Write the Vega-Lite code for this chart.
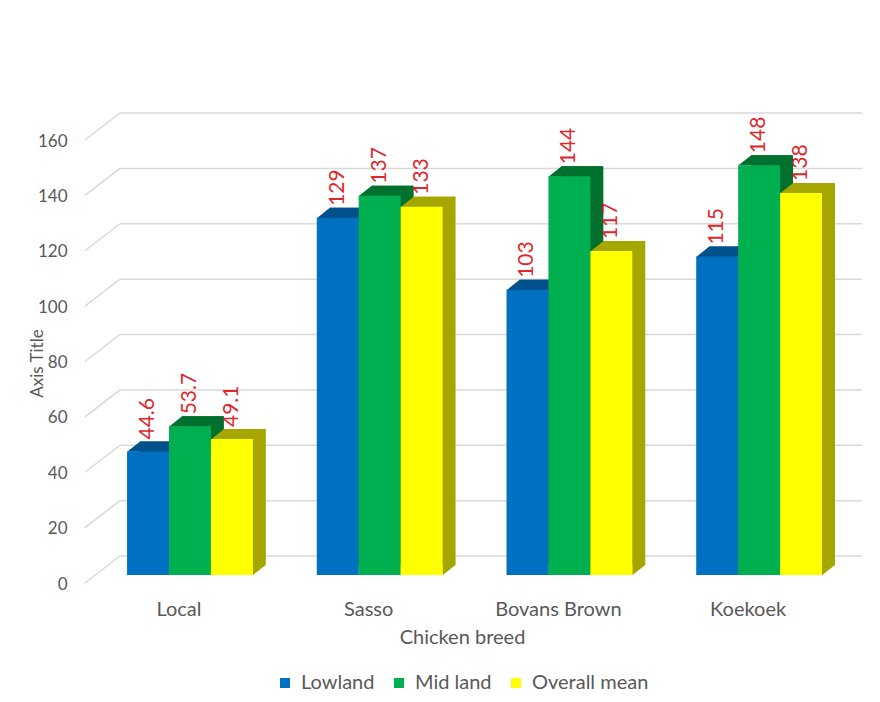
{
  "$schema": "https://vega.github.io/schema/vega-lite/v6.json",
  "width": 742,
  "height": 443,
  "autosize": {"type": "none"},
  "padding": {"left": 120, "top": 132, "right": 18, "bottom": 127},
  "background": "white",
  "config": {"font": "Lato", "view": {"stroke": null}},
  "datasets": {
    "yields": [
      {"breed": "Local", "series": "Lowland", "value": 44.6},
      {"breed": "Local", "series": "Mid land", "value": 53.7},
      {"breed": "Local", "series": "Overall mean", "value": 49.1},
      {"breed": "Sasso", "series": "Lowland", "value": 129},
      {"breed": "Sasso", "series": "Mid land", "value": 137},
      {"breed": "Sasso", "series": "Overall mean", "value": 133},
      {"breed": "Bovans Brown", "series": "Lowland", "value": 103},
      {"breed": "Bovans Brown", "series": "Mid land", "value": 144},
      {"breed": "Bovans Brown", "series": "Overall mean", "value": 117},
      {"breed": "Koekoek", "series": "Lowland", "value": 115},
      {"breed": "Koekoek", "series": "Mid land", "value": 148},
      {"breed": "Koekoek", "series": "Overall mean", "value": 138}
    ],
    "gridTicks": [
      {"v": 0}, {"v": 20}, {"v": 40}, {"v": 60}, {"v": 80},
      {"v": 100}, {"v": 120}, {"v": 140}, {"v": 160}
    ]
  },
  "resolve": {"scale": {"fill": "independent", "x": "independent"}, "axis": {"x": "independent"}},
  "layer": [
    {
      "data": {"name": "gridTicks"},
      "mark": {"type": "rule", "color": "#D9D9D9", "strokeWidth": 1.5, "yOffset": -19},
      "encoding": {
        "y": {"field": "v", "type": "quantitative", "title": "Axis Title",
              "scale": {"domain": [0, 160], "nice": false, "zero": true}}
      }
    },
    {
      "layer": [
        {
          "data": {"name": "yields"},
          "mark": {"type": "bar", "yOffset": -10, "y2Offset": -10},
          "encoding": {
            "x": {"field": "breed", "type": "nominal", "axis": null,
                  "scale": {"domain": ["Local", "Sasso", "Bovans Brown", "Koekoek"],
                            "paddingInner": 0.337, "paddingOuter": 0.124, "align": 0.4263}},
            "xOffset": {"field": "series", "type": "nominal",
                        "scale": {"domain": ["Lowland", "Mid land", "Overall mean"],
                                  "paddingInner": 0, "paddingOuter": 0}},
            "y": {"field": "value", "type": "quantitative", "title": "Axis Title"},
            "fill": {"field": "series", "type": "nominal", "legend": null,
                     "scale": {"domain": ["Lowland", "Mid land", "Overall mean"],
                               "range": ["#00508C", "#00702E", "#A6A600"]}}
          }
        }
      ]
    },
    {
      "layer": [
        {
          "data": {"name": "gridTicks"},
          "mark": {"type": "rule", "color": "#D9D9D9", "strokeWidth": 1.5,
                   "xOffset": -105, "x2Offset": -70, "yOffset": 8, "y2Offset": -19},
          "encoding": {
            "x": {"datum": "Local", "type": "nominal", "title": "Chicken breed"},
            "x2": {"datum": "Local"},
            "y": {"field": "v", "type": "quantitative", "title": "Axis Title"},
            "y2": {"field": "v"}
          }
        },
        {
          "data": {"name": "yields"},
          "mark": {"type": "point", "filled": true, "opacity": 1, "strokeWidth": 0, "size": 4597,
                   "shape": "M 0.6165 -0.295 L 0.6165 0.005 L 1 -0.295 Z"},
          "encoding": {
            "x": {"field": "breed", "type": "nominal", "title": "Chicken breed"},
            "xOffset": {"field": "series", "type": "nominal"},
            "y": {"datum": 0, "type": "quantitative", "title": "Axis Title"},
            "fill": {"field": "series", "type": "nominal", "legend": null,
                     "scale": {"domain": ["Lowland", "Mid land", "Overall mean"],
                               "range": ["#00508C", "#00702E", "#A6A600"]}}
          }
        },
        {
          "data": {"name": "yields"},
          "mark": {"type": "point", "filled": true, "opacity": 1, "strokeWidth": 0, "size": 4597,
                   "shape": "M -0.6165 0.01 L 0.6165 0.01 L 1 -0.295 L -0.233 -0.295 Z"},
          "encoding": {
            "x": {"field": "breed", "type": "nominal", "title": "Chicken breed"},
            "xOffset": {"field": "series", "type": "nominal"},
            "y": {"field": "value", "type": "quantitative", "title": "Axis Title"},
            "fill": {"field": "series", "type": "nominal", "legend": null,
                     "scale": {"domain": ["Lowland", "Mid land", "Overall mean"],
                               "range": ["#0B5A9A", "#00843C", "#C8C800"]}}
          }
        },
        {
          "data": {"name": "yields"},
          "mark": {"type": "bar"},
          "encoding": {
            "x": {
              "field": "breed", "type": "nominal", "title": "Chicken breed",
              "scale": {"domain": ["Local", "Sasso", "Bovans Brown", "Koekoek"],
                        "paddingInner": 0.337, "paddingOuter": 0.124, "align": 0.15},
              "axis": {
                "labelAngle": 0, "labelAlign": "center", "domain": false, "ticks": false, "tickSize": 0,
                "labelPadding": 34, "labelBaseline": "middle", "labelOffset": -11,
                "labelFontSize": 20, "labelColor": "#595959",
                "titleFontSize": 20, "titleColor": "#595959", "titleFontWeight": "normal",
                "titleX": 342, "titleY": 62, "titleBaseline": "middle", "titleAlign": "center"
              }
            },
            "xOffset": {"field": "series", "type": "nominal",
                        "scale": {"domain": ["Lowland", "Mid land", "Overall mean"],
                                  "paddingInner": 0, "paddingOuter": 0}},
            "y": {
              "field": "value", "type": "quantitative", "title": "Axis Title",
              "axis": {
                "values": [0, 20, 40, 60, 80, 100, 120, 140, 160],
                "grid": false, "domain": false, "ticks": false, "tickSize": 0,
                "labelPadding": 53, "labelOffset": 9,
                "labelFontSize": 17, "labelColor": "#595959",
                "titleFontSize": 17, "titleColor": "#595959", "titleFontWeight": "normal",
                "titleX": -83, "titleY": 231, "titleAngle": 270,
                "titleBaseline": "middle", "titleAlign": "center"
              }
            },
            "color": {
              "field": "series", "type": "nominal",
              "scale": {"domain": ["Lowland", "Mid land", "Overall mean"],
                        "range": ["#0070C0", "#00B050", "#FFFF00"]},
              "legend": {
                "title": null, "orient": "none", "legendX": 155, "legendY": 541,
                "direction": "horizontal", "gridAlign": "none",
                "symbolType": "square", "symbolSize": 100,
                "symbolStrokeWidth": 0, "labelFontSize": 20, "labelColor": "#595959",
                "labelOffset": 6, "columnPadding": 14
              }
            }
          }
        },
        {
          "data": {"name": "yields"},
          "mark": {"type": "text", "angle": 270, "align": "left", "baseline": "middle",
                   "yOffset": -12, "fontSize": 21, "color": "#E0262B"},
          "encoding": {
            "x": {"field": "breed", "type": "nominal", "title": "Chicken breed"},
            "xOffset": {"field": "series", "type": "nominal"},
            "y": {"field": "value", "type": "quantitative", "title": "Axis Title"},
            "text": {"field": "value", "type": "quantitative"}
          }
        }
      ]
    }
  ]
}
